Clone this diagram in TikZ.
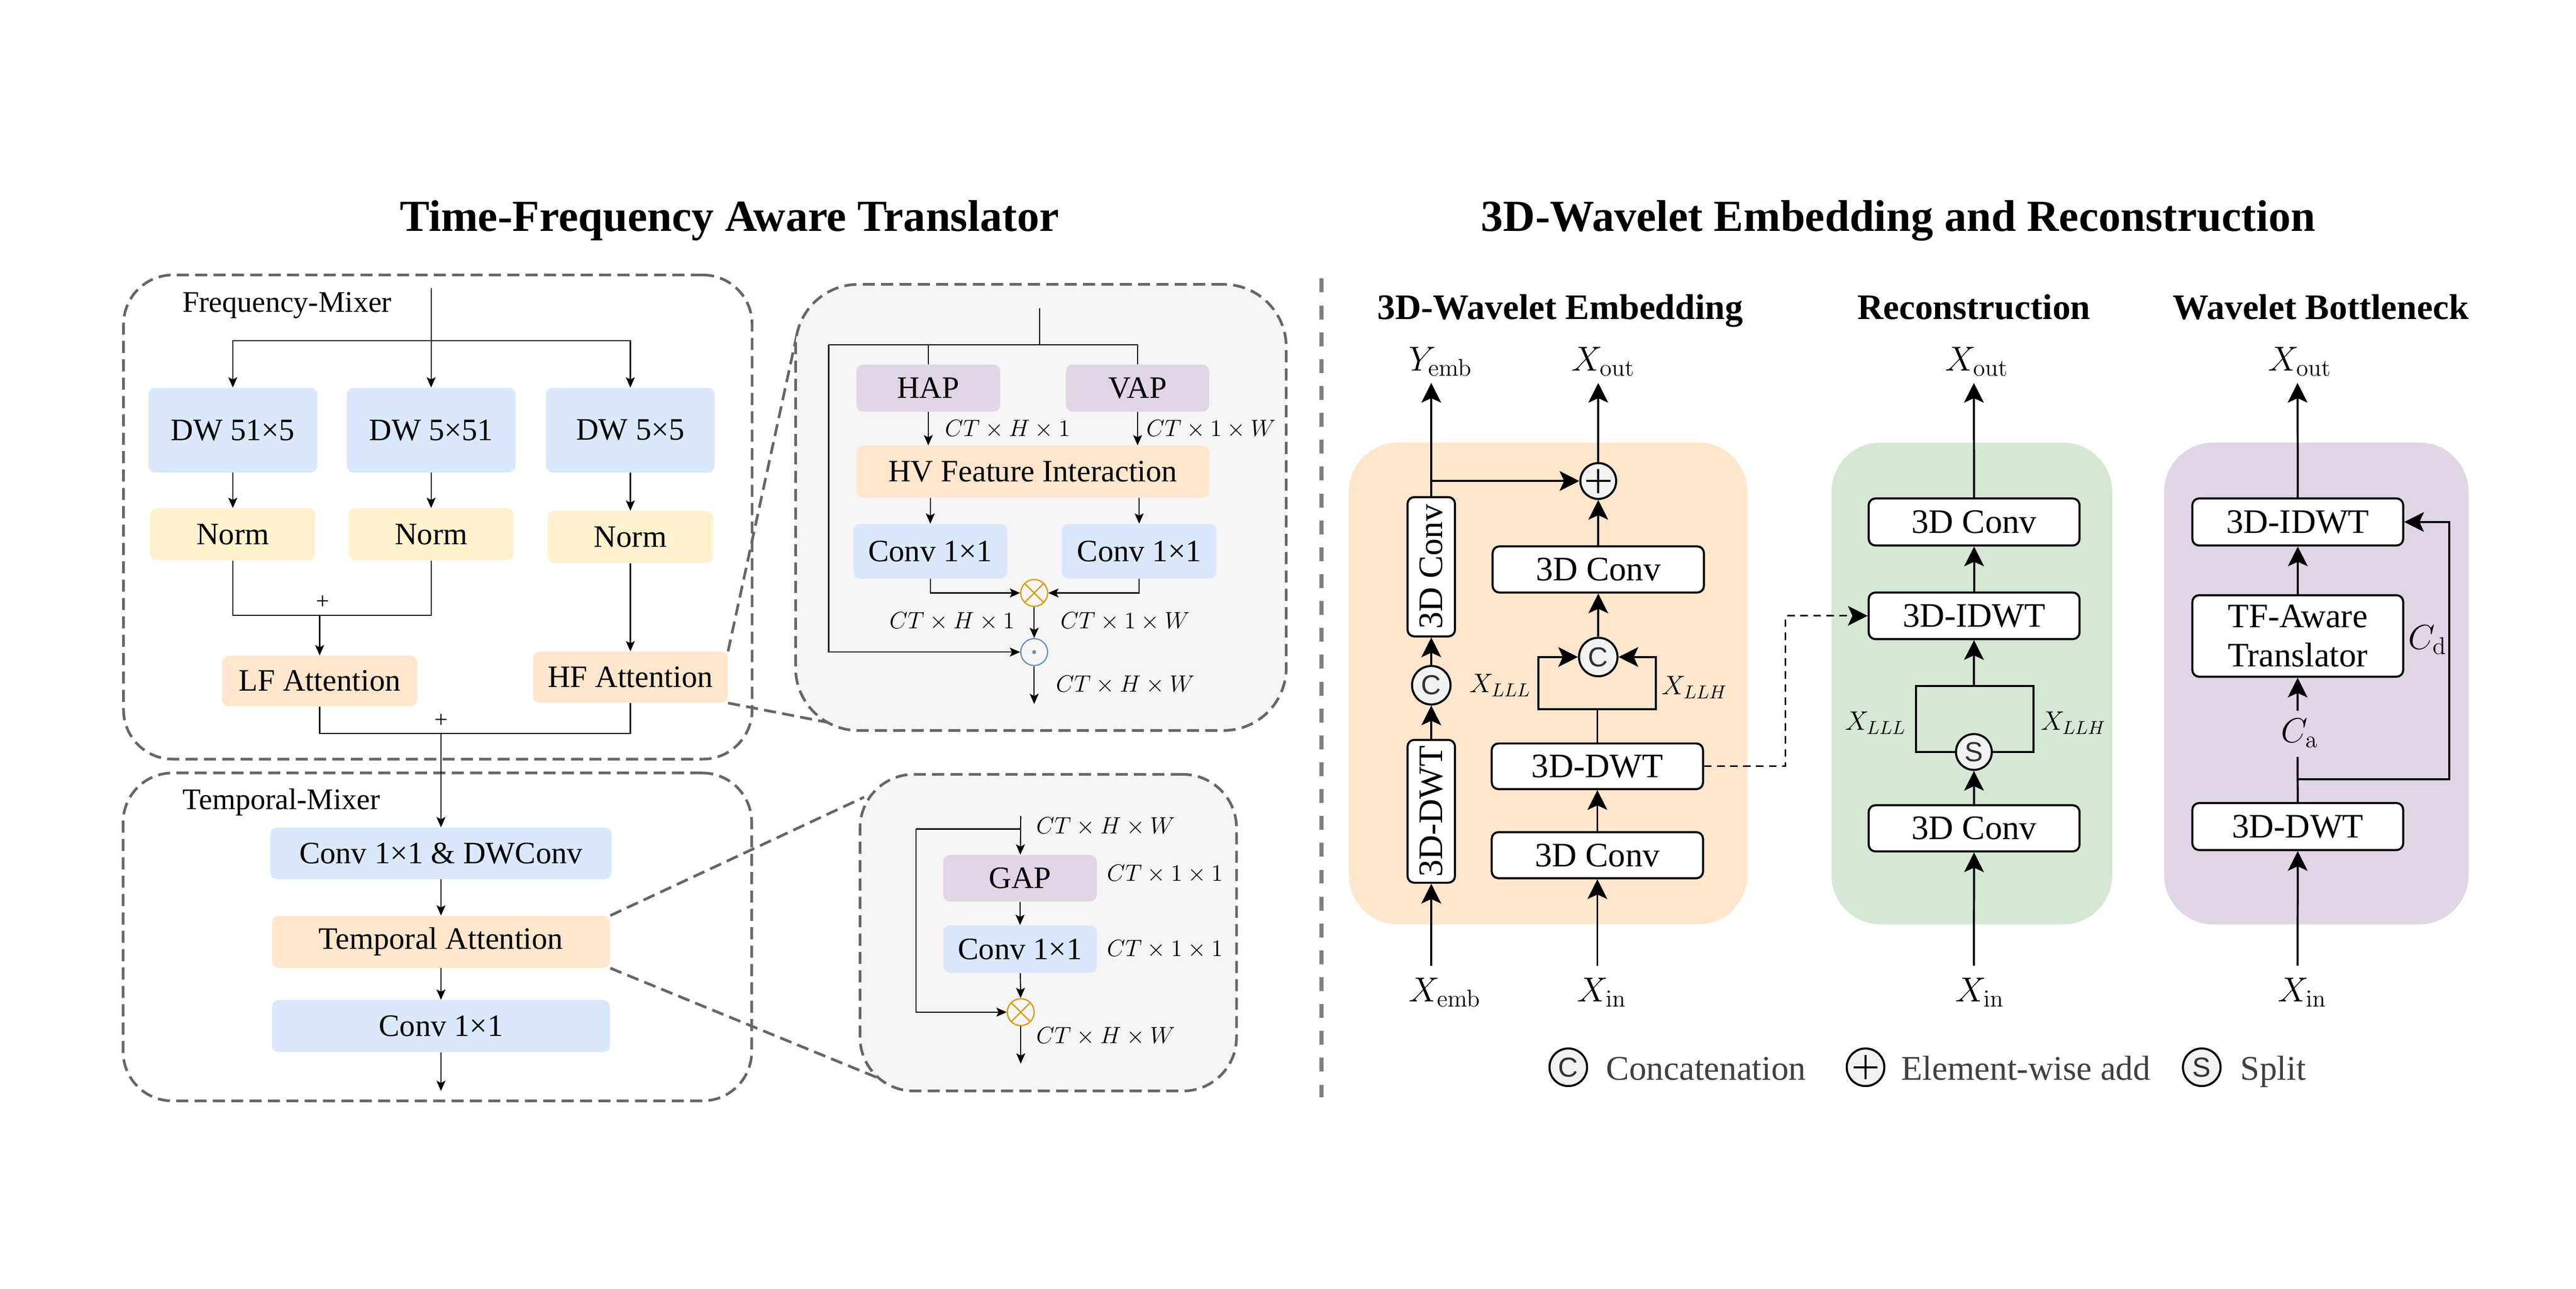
\documentclass[tikz,border=0pt]{standalone}
\usepackage{fix-cm}
\usepackage[no-math]{fontspec}
\setmainfont{Liberation Serif}
\setsansfont{Liberation Sans}
\usepackage{amsmath}
\usetikzlibrary{arrows.meta}
\definecolor{cblue}{HTML}{DAE8FC}
\definecolor{cyellow}{HTML}{FFF2CC}
\definecolor{corange}{HTML}{FFE6CC}
\definecolor{cpurple}{HTML}{E1D5E7}
\definecolor{cgreen}{HTML}{D5E8D4}
\definecolor{zgray}{HTML}{F5F5F5}
\definecolor{dgray}{HTML}{666666}
\definecolor{opgray}{HTML}{F2F2F2}
\definecolor{mulorange}{HTML}{D79B00}
\definecolor{dotblue}{HTML}{6C8EBF}
\definecolor{divgray}{HTML}{808080}
\definecolor{legendgray}{HTML}{404040}
\newcommand{\titlefont}{\fontsize{28.2}{34}\selectfont\bfseries}
\newcommand{\headfont}{\fontsize{22.8}{27}\selectfont\bfseries}
\newcommand{\boxfont}{\fontsize{19.8}{24}\selectfont}
\newcommand{\mixfont}{\fontsize{19}{23}\selectfont}
\newcommand{\dimfont}{\fontsize{15}{18}\selectfont}
\newcommand{\wfont}{\fontsize{21.8}{25}\selectfont}
\newcommand{\xfont}{\fontsize{22}{26}\selectfont}
\newcommand{\llhfont}{\fontsize{17}{20}\selectfont}
\newcommand{\opfont}{\fontsize{17.5}{20}\selectfont\sffamily}
\newcommand{\legendfont}{\fontsize{22}{26}\selectfont}
\tikzset{%
  lbox/.style={rectangle, rounded corners=0.15cm, font=\boxfont, inner sep=0pt},
  convbox/.style={lbox, fill=cblue},% conv / dw blocks
  normbox/.style={lbox, fill=cyellow},% norm blocks
  attbox/.style={lbox, fill=corange},% attention blocks
  poolbox/.style={lbox, fill=cpurple},% pooling blocks
  mixer/.style={draw=dgray, line width=1.7pt, dash pattern=on 0.27cm off 0.14cm, rounded corners=1.1cm, inner sep=0pt},
  zoombox/.style={mixer, fill=zgray, rounded corners=1.4cm},% detail views
  zoomline/.style={draw=dgray, line width=1.7pt, dash pattern=on 0.27cm off 0.14cm},
  flow/.style={line width=0.7pt, >={Stealth[length=0.23cm, width=0.2cm, inset=0.05cm]}},
  wire/.style={line width=1.3pt, >={Stealth[length=0.44cm, width=0.44cm, inset=0.1cm]}},
  jump/.style={wire, line width=1pt, dash pattern=on 0.17cm off 0.12cm},
  divider/.style={draw=divgray, line width=2.8pt, dash pattern=on 0.31cm off 0.29cm},
  panel/.style={rectangle, rounded corners=1.1cm, inner sep=0pt, minimum height=10.76cm},
  wbox/.style={draw, fill=white, line width=1.3pt, rounded corners=0.15cm, font=\wfont, inner sep=0pt, minimum width=4.71cm, minimum height=1.04cm},
  vbox/.style={wbox, rotate=90, minimum height=1.06cm},
  opnode/.style={circle, draw, fill=opgray, line width=1.3pt, minimum size=0.86cm, inner sep=0pt, font=\opfont, text=black!80},
  addnode/.style={opnode, minimum size=0.8cm, path picture={
    \draw[line width=1.3pt] ([xshift=-0.27cm]path picture bounding box.center) -- ([xshift=0.27cm]path picture bounding box.center)
      ([yshift=-0.27cm]path picture bounding box.center) -- ([yshift=0.27cm]path picture bounding box.center);}},
  mulnode/.style={circle, draw=mulorange, line width=0.8pt, fill=zgray, minimum size=0.6cm, inner sep=0pt, path picture={
    \draw[mulorange, line width=0.8pt] (path picture bounding box.north west) -- (path picture bounding box.south east)
      (path picture bounding box.north east) -- (path picture bounding box.south west);}},
  dotnode/.style={circle, draw=dotblue, line width=0.8pt, fill=zgray, minimum size=0.6cm, inner sep=0pt, path picture={
    \fill[dotblue] (path picture bounding box.center) circle (0.045cm);}},
  dimlabel/.style={font=\dimfont, inner sep=0pt},
  iolabel/.style={font=\xfont, inner sep=0pt},
  bandlabel/.style={font=\llhfont, inner sep=0pt}
}

\begin{document}
\begin{tikzpicture}
\useasboundingbox (0,0) rectangle (57.54,-28.78);

%%%% titles
\node[anchor=base west, font=\titlefont] (ltitle) at (8.81,-5.16) {Time-Frequency Aware Translator};
\node[anchor=base west, font=\titlefont] (rtitle) at (32.96,-5.16) {3D-Wavelet Embedding and Reconstruction};
\node[anchor=base, font=\headfont] (embhead) at (34.85,-7.13) {3D-Wavelet Embedding};
\node[anchor=base, font=\headfont] (rechead) at (44.09,-7.13) {Reconstruction};
\node[anchor=base, font=\headfont] (bothead) at (51.84,-7.13) {Wavelet Bottleneck};
\draw[divider] (29.52,-6.22) -- (29.52,-24.50);

%%%% frequency-mixer
\node[mixer, minimum width=14.04cm, minimum height=10.81cm] (fmix) at (9.78,-11.545) {};
\node[mixer, minimum width=14.04cm, minimum height=7.32cm] (tmix) at (9.77,-20.92) {};
\node[anchor=base west, font=\mixfont] (flabel) at (3.95,-6.97) {Frequency-Mixer};
\node[anchor=base west, font=\mixfont] (tlabel) at (3.96,-18.07) {Temporal-Mixer};

\node[convbox, minimum width=3.77cm, minimum height=1.89cm] (dw1) at (5.20,-9.605) {DW 51×5};
\node[convbox, minimum width=3.77cm, minimum height=1.89cm] (dw2) at (9.63,-9.605) {DW 5×51};
\node[convbox, minimum width=3.77cm, minimum height=1.89cm] (dw3) at (14.08,-9.605) {DW 5×5};
\node[normbox, minimum width=3.69cm, minimum height=1.16cm] (norm1) at (5.20,-11.93) {Norm};
\node[normbox, minimum width=3.69cm, minimum height=1.16cm] (norm2) at (9.63,-11.93) {Norm};
\node[normbox, minimum width=3.69cm, minimum height=1.16cm] (norm3) at (14.08,-11.99) {Norm};
\node[attbox, minimum width=4.36cm, minimum height=1.13cm] (lf) at (7.14,-15.205) {LF Attention};
\node[attbox, minimum width=4.35cm, minimum height=1.14cm] (hf) at (14.08,-15.12) {HF Attention};

\coordinate (fin) at (9.63,-6.43);
\coordinate (fsplit) at (9.63,-7.61);
\coordinate (lfjoin) at (7.14,-13.74);
\coordinate (fjoin) at (9.85,-16.38);
\draw[flow, ->] (fin) -- (dw2);
\draw[flow, ->] (fsplit) -| (dw1);
\draw[flow, ->] (fsplit) -| (dw3);
\draw[flow, ->] (dw1) -- (norm1);
\draw[flow, ->] (dw2) -- (norm2);
\draw[flow, ->] (dw3) -- (norm3);
\draw[flow] (norm1) |- (lfjoin) -| (norm2);
\draw[flow, ->] (lfjoin) -- (lf);
\draw[flow, ->] (norm3) -- (hf);
\draw[flow] (lf) |- (fjoin) -| (hf);
\node[dimlabel] (lfplus) at (7.21,-13.45) {+};
\node[dimlabel] (fplus) at (9.85,-16.09) {+};

%%%% temporal-mixer
\node[convbox, minimum width=7.63cm, minimum height=1.15cm] (cdw) at (9.85,-19.055) {Conv 1×1 \& DWConv};
\node[attbox, minimum width=7.55cm, minimum height=1.16cm] (tatt) at (9.85,-21.03) {Temporal Attention};
\node[convbox, minimum width=7.55cm, minimum height=1.16cm] (tconv) at (9.85,-22.91) {Conv 1×1};
\coordinate (tout) at (9.85,-24.36);
\draw[flow, ->] (fjoin) -- (cdw);
\draw[flow, ->] (cdw) -- (tatt);
\draw[flow, ->] (tatt) -- (tconv);
\draw[flow, ->] (tconv) -- (tout);

%%%% zoom-in views
\coordinate (hz1) at (17.80,-7.47);
\coordinate (hz2) at (18.49,-16.13);
\coordinate (tz1) at (19.30,-17.80);
\coordinate (tz2) at (19.74,-24.12);
\draw[zoomline] (hf.north east) -- (hz1);
\draw[zoomline] (hf.south east) -- (hz2);
\draw[zoomline] (tatt.north east) -- (tz1);
\draw[zoomline] (tatt.south east) -- (tz2);
\node[zoombox, minimum width=10.96cm, minimum height=9.96cm] (hview) at (23.25,-11.33) {};
\node[zoombox, rounded corners=1.2cm, minimum width=8.41cm, minimum height=7.07cm] (tview) at (23.415,-20.825) {};

% HF attention
\node[poolbox, minimum width=3.21cm, minimum height=1.05cm] (hap) at (20.735,-8.665) {HAP};
\node[poolbox, minimum width=3.20cm, minimum height=1.05cm] (vap) at (25.41,-8.665) {VAP};
\node[attbox, minimum width=7.88cm, minimum height=1.16cm] (hv) at (23.07,-10.53) {HV Feature Interaction};
\node[convbox, minimum width=3.44cm, minimum height=1.22cm] (conv1) at (20.78,-12.31) {Conv 1×1};
\node[convbox, minimum width=3.45cm, minimum height=1.22cm] (conv2) at (25.445,-12.31) {Conv 1×1};
\node[mulnode] (mul) at (23.10,-13.24) {};
\node[dotnode] (dot) at (23.10,-14.56) {};
\coordinate (hin) at (23.22,-6.88);
\coordinate (hsplit) at (23.22,-7.70);
\coordinate (hskip) at (18.51,-7.70);
\coordinate (hout) at (23.10,-15.72);
\draw[flow] (hin) -- (hsplit);
\draw[flow] (hskip) -- (hsplit) -| (vap);
\draw[flow] (hap |- hsplit) -- (hap);
\draw[flow, ->] (hap) -- (hap |- hv.north);
\draw[flow, ->] (vap) -- (vap |- hv.north);
\draw[flow, ->] (conv1 |- hv.south) -- (conv1);
\draw[flow, ->] (conv2 |- hv.south) -- (conv2);
\draw[flow, ->] (conv1) |- (mul);
\draw[flow, ->] (conv2) |- (mul);
\draw[flow, ->] (mul) -- (dot);
\draw[flow, ->] (hskip) |- (dot);
\draw[flow, ->] (dot) -- (hout);
\node[dimlabel, anchor=west] (d1) at (21.10,-9.58) {$CT \times H \times 1$};
\node[dimlabel, anchor=west] (d2) at (25.60,-9.58) {$CT \times 1 \times W$};
\node[dimlabel, anchor=east] (d3) at (22.67,-13.87) {$CT \times H \times 1$};
\node[dimlabel, anchor=west] (d4) at (23.68,-13.87) {$CT \times 1 \times W$};
\node[dimlabel, anchor=west] (d5) at (23.58,-15.29) {$CT \times H \times W$};

% temporal attention
\node[poolbox, minimum width=3.43cm, minimum height=1.04cm] (gap) at (22.785,-19.61) {GAP};
\node[convbox, minimum width=3.43cm, minimum height=1.06cm] (tconvb) at (22.785,-21.19) {Conv 1×1};
\node[mulnode] (tmul) at (22.80,-22.60) {};
\coordinate (tin) at (22.80,-18.22);
\coordinate (tsplit) at (22.80,-18.51);
\coordinate (tskip) at (20.46,-18.51);
\coordinate (ttout) at (22.80,-23.75);
\draw[flow, ->] (tin) -- (gap);
\draw[flow] (tsplit) -- (tskip);
\draw[flow, ->] (tskip) |- (tmul);
\draw[flow, ->] (gap) -- (tconvb);
\draw[flow, ->] (tconvb) -- (tmul);
\draw[flow, ->] (tmul) -- (ttout);
\node[dimlabel, anchor=west] (d6) at (23.14,-18.46) {$CT \times H \times W$};
\node[dimlabel, anchor=west] (d7) at (24.72,-19.52) {$CT \times 1 \times 1$};
\node[dimlabel, anchor=west] (d8) at (24.72,-21.20) {$CT \times 1 \times 1$};
\node[dimlabel, anchor=west] (d9) at (23.14,-23.14) {$CT \times H \times W$};

%%%% 3D-wavelet embedding
\node[panel, fill=corange, minimum width=8.90cm] (epanel) at (34.58,-15.26) {};
\node[panel, fill=cgreen, minimum width=6.27cm] (rpanel) at (44.045,-15.26) {};
\node[panel, fill=cpurple, minimum width=6.80cm] (bpanel) at (51.74,-15.26) {};

\node[vbox, minimum width=3.11cm] (econv) at (31.97,-12.655) {3D Conv};
\node[opnode] (ecat) at (31.97,-15.30) {C};
\node[vbox, minimum width=3.19cm] (edwt) at (31.97,-18.115) {3D-DWT};
\node[addnode] (eadd) at (35.70,-10.74) {};
\node[wbox, minimum width=4.72cm, minimum height=1.03cm] (econv2) at (35.70,-12.715) {3D Conv};
\node[opnode] (ecat2) at (35.70,-14.67) {C};
\node[wbox, minimum width=4.72cm, minimum height=1.02cm] (edwt2) at (35.68,-17.11) {3D-DWT};
\node[wbox, minimum width=4.72cm, minimum height=1.03cm] (econv3) at (35.68,-19.095) {3D Conv};
\coordinate (eembin) at (31.97,-21.56);
\coordinate (eembout) at (31.97,-8.55);
\coordinate (eskip) at (31.97,-10.74);
\coordinate (eout) at (35.70,-8.55);
\coordinate (ein) at (35.68,-21.56);
\coordinate (ebr) at (35.68,-15.83);
\coordinate (ebrl) at (34.36,-15.83);
\coordinate (ebrr) at (36.99,-15.83);
\draw[wire, ->] (eembin) -- (edwt);
\draw[wire, ->] (edwt) -- (ecat);
\draw[wire, ->] (ecat) -- (econv);
\draw[wire, ->] (econv) -- (eembout);
\draw[wire, ->] (eskip) -- (eadd);
\draw[wire, ->] (eadd) -- (eout);
\draw[wire, ->] (econv2) -- (eadd);
\draw[wire, ->] (ecat2) -- (econv2);
\draw[wire] (edwt2) -- (ebr);
\draw[wire, ->] (ebr) -- (ebrl) |- (ecat2);
\draw[wire, ->] (ebr) -- (ebrr) |- (ecat2);
\draw[wire, ->] (econv3) -- (edwt2);
\draw[wire, ->] (ein) -- (econv3);
\node[iolabel, anchor=base] (yemb) at (32.17,-8.28) {$Y_{\mathrm{emb}}$};
\node[iolabel, anchor=base] (eoutl) at (35.81,-8.28) {$X_{\mathrm{out}}$};
\node[iolabel, anchor=base] (xemb) at (32.27,-22.37) {$X_{\mathrm{emb}}$};
\node[iolabel, anchor=base] (einl) at (35.78,-22.37) {$X_{\mathrm{in}}$};
\node[bandlabel] (elll) at (33.51,-15.30) {$X_{LLL}$};
\node[bandlabel] (ellh) at (37.85,-15.35) {$X_{LLH}$};

%%%% reconstruction
\node[wbox, minimum height=1.05cm] (rconv) at (44.095,-11.655) {3D Conv};
\node[wbox] (ridwt) at (44.095,-13.75) {3D-IDWT};
\node[opnode, minimum size=0.8cm] (rsplit) at (44.09,-16.79) {S};
\node[wbox, minimum height=1.03cm] (rconv2) at (44.095,-18.495) {3D Conv};
\coordinate (ejump1) at (39.88,-17.11);
\coordinate (rbr) at (44.09,-15.32);
\coordinate (rbrl) at (42.80,-15.32);
\coordinate (rbrr) at (45.42,-15.32);
\coordinate (rout) at (44.09,-8.55);
\coordinate (rin) at (44.09,-21.56);
\draw[jump, ->] (edwt2.east) -- (ejump1) |- (ridwt);
\draw[wire, ->] (rbr) -- (ridwt);
\draw[wire] (rsplit) -| (rbrl) -- (rbrr) |- (rsplit);
\draw[wire, ->] (rconv2) -- (rsplit);
\draw[wire, ->] (ridwt) -- (rconv);
\draw[wire, ->] (rconv) -- (rout);
\draw[wire, ->] (rin) -- (rconv2);
\node[iolabel, anchor=base] (routl) at (44.15,-8.28) {$X_{\mathrm{out}}$};
\node[iolabel, anchor=base] (rinl) at (44.22,-22.37) {$X_{\mathrm{in}}$};
\node[bandlabel] (rlll) at (41.89,-16.14) {$X_{LLL}$};
\node[bandlabel] (rllh) at (46.31,-16.14) {$X_{LLH}$};

%%%% wavelet bottleneck
\node[wbox, minimum height=1.05cm] (bidwt) at (51.325,-11.655) {3D-IDWT};
\node[wbox, minimum height=1.82cm, align=center] (btf) at (51.325,-14.20) {TF-Aware\\Translator};
\node[wbox, minimum height=1.05cm] (bdwt) at (51.325,-18.455) {3D-DWT};
\coordinate (bout) at (51.32,-8.55);
\coordinate (bin) at (51.32,-21.56);
\coordinate (catop) at (51.32,-15.87);
\coordinate (cabot) at (51.32,-16.90);
\coordinate (bbr) at (51.32,-17.40);
\coordinate (bbrr) at (54.71,-17.40);
\draw[wire, ->] (btf) -- (bidwt);
\draw[wire, ->] (bidwt) -- (bout);
\draw[wire, ->] (catop) -- (btf);
\draw[wire] (bdwt) -- (cabot);
\draw[wire, ->] (bbr) -- (bbrr) |- (bidwt);
\draw[wire, ->] (bin) -- (bdwt);
\node[iolabel] (ca) at (51.36,-16.37) {$C_{\mathrm{a}}$};
\node[iolabel] (cd) at (54.22,-14.29) {$C_{\mathrm{d}}$};
\node[iolabel, anchor=base] (boutl) at (51.37,-8.28) {$X_{\mathrm{out}}$};
\node[iolabel, anchor=base] (binl) at (51.42,-22.37) {$X_{\mathrm{in}}$};

%%%% legend
\node[opnode, minimum size=0.84cm] (lcat) at (35.03,-23.83) {C};
\node[addnode, minimum size=0.84cm] (ladd) at (41.67,-23.83) {};
\node[opnode, minimum size=0.84cm] (lsplit) at (49.18,-23.83) {S};
\node[anchor=base west, font=\legendfont, text=legendgray] (lcatt) at (35.75,-24.11) {Concatenation};
\node[anchor=base west, font=\legendfont, text=legendgray] (laddt) at (42.35,-24.11) {Element-wise add};
\node[anchor=base west, font=\legendfont, text=legendgray] (lsplitt) at (49.92,-24.11) {Split};
\end{tikzpicture}
\end{document}
